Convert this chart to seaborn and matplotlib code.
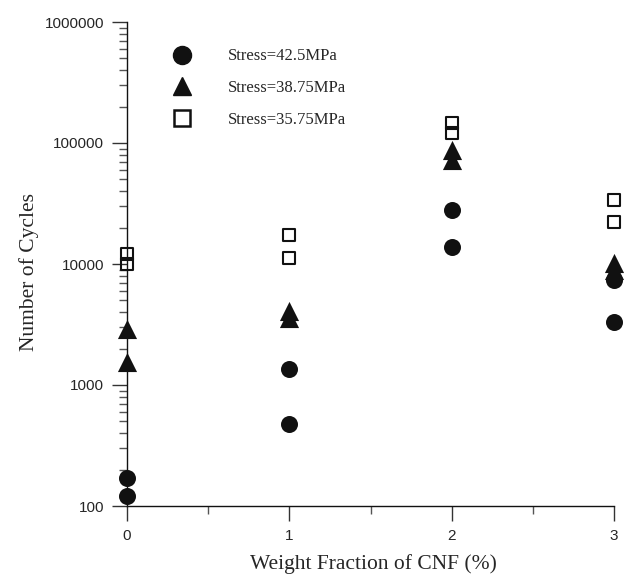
import numpy as np
import pandas as pd
import matplotlib
matplotlib.use("Agg")
import matplotlib.pyplot as plt
from matplotlib.lines import Line2D
from matplotlib.ticker import FixedLocator, LogLocator, NullFormatter, FuncFormatter
import seaborn as sns

# CNF weight fraction (%) for each measured specimen
weight = [0, 0, 1, 1, 2, 2, 3, 3]
# cycles to failure at each stress level
cycles_42_5 = [121, 170, 476, 1360, 13800, 28000, 3320, 7370]
cycles_38_75 = [1550, 2900, 3580, 4090, 72400, 87500, 8930, 10200]
cycles_35_75 = [10000, 12100, 11200, 17400, 121000, 146000, 22300, 33700]
series_labels = ["Stress=42.5MPa", "Stress=38.75MPa", "Stress=35.75MPa"]
y_tick_values = [100, 1000, 10000, 100000, 1000000]
x_tick_values = [0, 1, 2, 3]

sns.set_style("ticks")
plt.rcParams["font.family"] = ["Liberation Sans", "DejaVu Sans"]

df = pd.concat([
    pd.DataFrame({"weight": weight, "cycles": cycles_42_5, "stress": series_labels[0]}),
    pd.DataFrame({"weight": weight, "cycles": cycles_38_75, "stress": series_labels[1]}),
    pd.DataFrame({"weight": weight, "cycles": cycles_35_75, "stress": series_labels[2]}),
])

fig = plt.figure(figsize=(6.24, 5.77), dpi=100)
ax = fig.add_axes([127 / 624, 1 - 506 / 577, (614 - 127) / 624, (506 - 22) / 577])

styles = {
    series_labels[0]: dict(marker="o", s=150, color="#111111", edgecolor="#111111", linewidth=0),
    series_labels[1]: dict(marker="^", s=190, color="#111111", edgecolor="#111111", linewidth=0),
    series_labels[2]: dict(marker="s", s=75, facecolor="none", edgecolor="#111111", linewidth=1.5),
}
for lab in series_labels:
    sub = df[df["stress"] == lab]
    sns.scatterplot(data=sub, x="weight", y="cycles", ax=ax, legend=False,
                    clip_on=False, zorder=3, **styles[lab])

ax.set_yscale("log")
ax.set_ylim(100, 1000000)
ax.set_xlim(0, 3)

ax.yaxis.set_major_locator(FixedLocator(y_tick_values))
ax.yaxis.set_major_formatter(FuncFormatter(lambda v, p: f"{int(round(v))}"))
ax.yaxis.set_minor_locator(LogLocator(base=10, subs=np.arange(2, 10)))
ax.yaxis.set_minor_formatter(NullFormatter())
ax.xaxis.set_major_locator(FixedLocator(x_tick_values))
ax.xaxis.set_minor_locator(FixedLocator([0.5, 1.5, 2.5]))

for side in ["top", "right"]:
    ax.spines[side].set_visible(False)
for side in ["left", "bottom"]:
    ax.spines[side].set_linewidth(1.0)
    ax.spines[side].set_color("#111111")

ax.tick_params(which="major", direction="out", length=11, width=1.0, color="#333333",
               labelsize=11, pad=5.5)
ax.tick_params(which="minor", direction="out", length=5.5, width=1.0, color="#555555")

ax.set_xlabel("Weight Fraction of CNF (%)", family="Liberation Serif", fontsize=15.5)
ax.set_ylabel("Number of Cycles", family="Liberation Serif", fontsize=15.5)
ax.xaxis.set_label_coords(0.507, -0.1)
ax.yaxis.set_label_coords(-0.18, 0.483)

handles = [
    Line2D([], [], linestyle="none", marker="o", markersize=13, color="#111111"),
    Line2D([], [], linestyle="none", marker="^", markersize=13.5, color="#111111"),
    Line2D([], [], linestyle="none", marker="s", markersize=12, markerfacecolor="none",
           markeredgecolor="#111111", markeredgewidth=1.8),
]
ax.legend(handles, series_labels, loc="upper left",
          bbox_to_anchor=(169.5 / 624, 1 - 48.5 / 577), bbox_transform=fig.transFigure,
          frameon=False, borderpad=0, borderaxespad=0, handlelength=1.5,
          handletextpad=2.0, labelspacing=0.93,
          prop={"family": "Liberation Serif", "size": 12})

fig.savefig("out.png", dpi=100)
